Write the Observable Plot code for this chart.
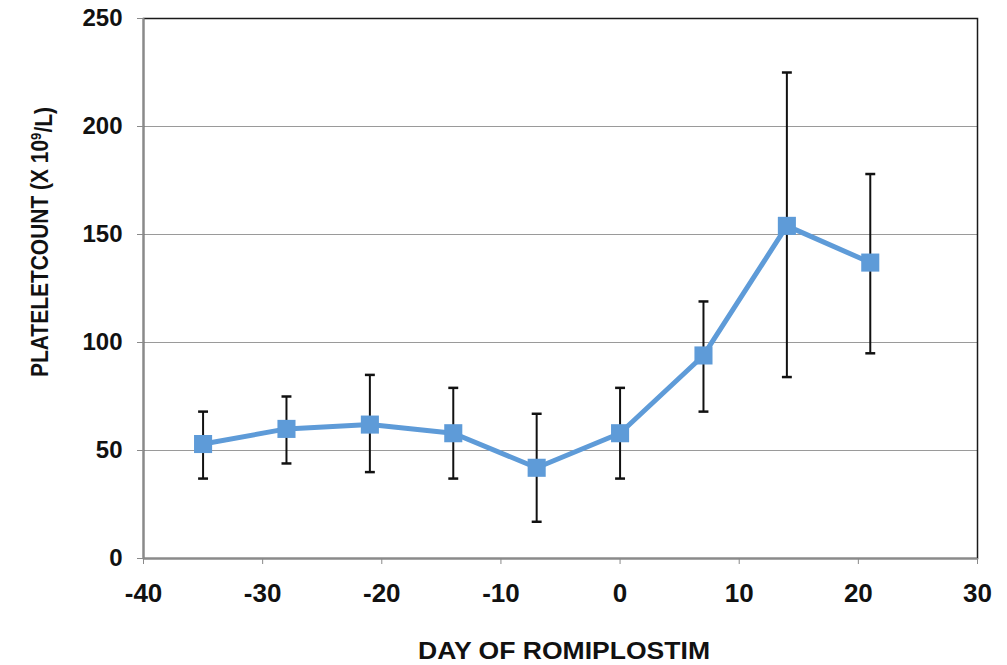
<!DOCTYPE html>
<html>
<head>
<meta charset="utf-8">
<script src="https://cdn.jsdelivr.net/npm/d3@7"></script>
<script src="https://cdn.jsdelivr.net/npm/@observablehq/plot@0.6"></script>
<style>
  html, body { margin: 0; padding: 0; background: #fff; }
  #chart svg { display: block; }
</style>
</head>
<body>
<div id="chart"></div>
<script>
// Data
const days  = [-35, -28, -21, -14, -7, 0, 7, 14, 21];
const means = [53, 60, 62, 58, 42, 58, 94, 154, 137];
const upper = [68, 75, 85, 79, 67, 79, 119, 225, 178];
const lower = [37, 44, 40, 37, 17, 37, 68, 84, 95];
const xTicks = [-40, -30, -20, -10, 0, 10, 20, 30];
const yTicks = [0, 50, 100, 150, 200, 250];
const gridValues = [50, 100, 150, 200];
const xTitle = "DAY OF ROMIPLOSTIM";
const yTitleMain = "PLATELETCOUNT (X 10";
const yTitleSup = "9";
const yTitleEnd = "/L)";

const rows = days.map((d, i) => ({day: d, mean: means[i], hi: upper[i], lo: lower[i]}));

const capSymbol = {
  draw(context, size) {
    const w = Math.sqrt(size) / 2;
    context.moveTo(-w, 0);
    context.lineTo(w, 0);
  }
};

const blue = "#5e9bd8";

const chart = Plot.plot({
  width: 1007,
  height: 665,
  marginLeft: 143,
  marginRight: 30,
  marginTop: 18,
  marginBottom: 107,
  style: {fontFamily: "'Liberation Sans', Arial, sans-serif", fontSize: "24px", fontWeight: "bold", color: "#000", background: "#fff"},
  x: {domain: [-40, 30]},
  y: {domain: [0, 250]},
  marks: [
    Plot.gridY(gridValues, {stroke: "#9a9a9a", strokeOpacity: 1, strokeWidth: 1.2}),
    Plot.frame({stroke: "#1a1a1a", strokeWidth: 1.5}),
    Plot.ruleX([-40], {stroke: "#8a8a8a", strokeWidth: 2}),
    Plot.ruleY([0], {stroke: "#8a8a8a", strokeWidth: 2}),
    Plot.axisY({ticks: yTicks, tickSize: 6, tickPadding: 15, stroke: "#8a8a8a", label: null, fill: "#111", fontSize: 24}),
    Plot.axisX({ticks: xTicks, tickSize: 6, tickPadding: 19, stroke: "#8a8a8a", label: null, fill: "#111", fontSize: 26, tickFormat: d => d < 0 ? "-" + Math.abs(d) : String(d)}),
    Plot.ruleX(rows, {x: "day", y1: "lo", y2: "hi", stroke: "#111", strokeWidth: 2}),
    Plot.dot(rows, {x: "day", y: "hi", symbol: capSymbol, r: 5.6, stroke: "#111", strokeWidth: 2.5, fill: "none"}),
    Plot.dot(rows, {x: "day", y: "lo", symbol: capSymbol, r: 5.6, stroke: "#111", strokeWidth: 2.5, fill: "none"}),
    Plot.line(rows, {x: "day", y: "mean", stroke: blue, strokeWidth: 5}),
    Plot.dot(rows, {x: "day", y: "mean", symbol: "square", r: 10.2, fill: blue, stroke: "none"})
  ]
});

document.getElementById("chart").appendChild(chart);

const svg = d3.select(chart);
// x-axis title
svg.append("text")
  .attr("x", 564)
  .attr("y", 659)
  .attr("text-anchor", "middle")
  .attr("textLength", 292)
  .attr("lengthAdjust", "spacingAndGlyphs")
  .style("font-size", "24px")
  .style("font-weight", "bold")
  .attr("fill", "#111")
  .text(xTitle);

// y-axis title with superscript
const yt = svg.append("text")
  .attr("transform", "translate(48,242) rotate(-90)")
  .attr("text-anchor", "middle")
  .attr("textLength", 270)
  .attr("lengthAdjust", "spacingAndGlyphs")
  .style("font-size", "24px")
  .style("font-weight", "bold")
  .attr("fill", "#111");
yt.append("tspan").text(yTitleMain);
yt.append("tspan").attr("dy", "-0.45em").style("font-size", "15px").text(yTitleSup);
yt.append("tspan").attr("dy", "0.45em").text(yTitleEnd);
</script>
</body>
</html>
